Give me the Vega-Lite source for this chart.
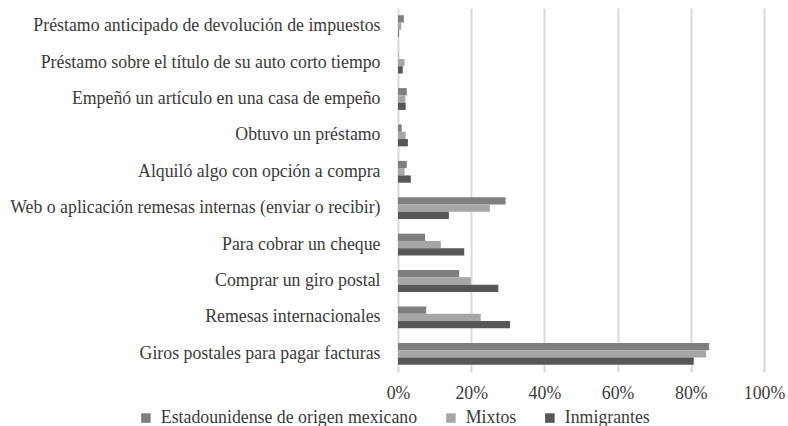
{
  "$schema": "https://vega.github.io/schema/vega-lite/v6.json",
  "autosize": {"type": "none"},
  "padding": {"left": 398, "top": 8, "right": 24, "bottom": 54},
  "width": 366,
  "height": 364,
  "background": "white",
  "config": {
    "font": "Times New Roman, Times, Tinos, Liberation Serif, DejaVu Serif",
    "view": {"stroke": null},
    "axis": {"labelFont": "Times New Roman, Times, Tinos, Liberation Serif, DejaVu Serif", "labelColor": "#3a3a3a", "labelFontSize": 17.8, "titleFontSize": 16},
    "legend": {"labelFont": "Times New Roman, Times, Tinos, Liberation Serif, DejaVu Serif"}
  },
  "data": {
    "values": [
      {"cat": "Préstamo anticipado de devolución de impuestos", "grupo": "Estadounidense de origen mexicano", "v": 1.6},
      {"cat": "Préstamo anticipado de devolución de impuestos", "grupo": "Mixtos", "v": 0.9},
      {"cat": "Préstamo anticipado de devolución de impuestos", "grupo": "Inmigrantes", "v": 0.2},
      {"cat": "Préstamo sobre el título de su auto corto tiempo", "grupo": "Estadounidense de origen mexicano", "v": 0.1},
      {"cat": "Préstamo sobre el título de su auto corto tiempo", "grupo": "Mixtos", "v": 1.8},
      {"cat": "Préstamo sobre el título de su auto corto tiempo", "grupo": "Inmigrantes", "v": 1.3},
      {"cat": "Empeñó un artículo en una casa de empeño", "grupo": "Estadounidense de origen mexicano", "v": 2.4},
      {"cat": "Empeñó un artículo en una casa de empeño", "grupo": "Mixtos", "v": 2.0},
      {"cat": "Empeñó un artículo en una casa de empeño", "grupo": "Inmigrantes", "v": 2.1},
      {"cat": "Obtuvo un préstamo", "grupo": "Estadounidense de origen mexicano", "v": 1.0},
      {"cat": "Obtuvo un préstamo", "grupo": "Mixtos", "v": 2.1},
      {"cat": "Obtuvo un préstamo", "grupo": "Inmigrantes", "v": 2.7},
      {"cat": "Alquiló algo con opción a compra", "grupo": "Estadounidense de origen mexicano", "v": 2.4},
      {"cat": "Alquiló algo con opción a compra", "grupo": "Mixtos", "v": 1.8},
      {"cat": "Alquiló algo con opción a compra", "grupo": "Inmigrantes", "v": 3.5},
      {"cat": "Web o aplicación remesas internas (enviar o recibir)", "grupo": "Estadounidense de origen mexicano", "v": 29.4},
      {"cat": "Web o aplicación remesas internas (enviar o recibir)", "grupo": "Mixtos", "v": 25.1},
      {"cat": "Web o aplicación remesas internas (enviar o recibir)", "grupo": "Inmigrantes", "v": 13.9},
      {"cat": "Para cobrar un cheque", "grupo": "Estadounidense de origen mexicano", "v": 7.4},
      {"cat": "Para cobrar un cheque", "grupo": "Mixtos", "v": 11.7},
      {"cat": "Para cobrar un cheque", "grupo": "Inmigrantes", "v": 18.1},
      {"cat": "Comprar un giro postal", "grupo": "Estadounidense de origen mexicano", "v": 16.7},
      {"cat": "Comprar un giro postal", "grupo": "Mixtos", "v": 19.9},
      {"cat": "Comprar un giro postal", "grupo": "Inmigrantes", "v": 27.4},
      {"cat": "Remesas internacionales", "grupo": "Estadounidense de origen mexicano", "v": 7.7},
      {"cat": "Remesas internacionales", "grupo": "Mixtos", "v": 22.6},
      {"cat": "Remesas internacionales", "grupo": "Inmigrantes", "v": 30.6},
      {"cat": "Giros postales para pagar facturas", "grupo": "Estadounidense de origen mexicano", "v": 85.0},
      {"cat": "Giros postales para pagar facturas", "grupo": "Mixtos", "v": 84.2},
      {"cat": "Giros postales para pagar facturas", "grupo": "Inmigrantes", "v": 80.8}
    ]
  },
  "mark": {"type": "bar"},
  "encoding": {
    "y": {
      "field": "cat", "type": "nominal", "sort": null,
      "scale": {"paddingInner": 0.4, "paddingOuter": 0.2},
      "axis": {"title": null, "ticks": false, "domain": false, "labelPadding": 18, "labelLimit": 400}
    },
    "yOffset": {"field": "grupo", "type": "nominal",
      "sort": ["Estadounidense de origen mexicano", "Mixtos", "Inmigrantes"],
      "scale": {"paddingInner": 0, "paddingOuter": 0}},
    "x": {
      "field": "v", "type": "quantitative",
      "scale": {"domain": [0, 100], "nice": false},
      "axis": {"title": null, "values": [0, 20, 40, 60, 80, 100], "labelExpr": "datum.value + '%'",
        "grid": true, "gridColor": "#d9d9d9", "gridWidth": 2, "domain": false,
        "ticks": false, "labelPadding": 12, "labelFlush": false}
    },
    "color": {
      "field": "grupo", "type": "nominal",
      "sort": ["Estadounidense de origen mexicano", "Mixtos", "Inmigrantes"],
      "scale": {"domain": ["Estadounidense de origen mexicano", "Mixtos", "Inmigrantes"], "range": ["#7f7f7f", "#a6a6a6", "#575757"]},
      "legend": {"title": null, "orient": "none", "direction": "horizontal", "legendX": -261, "legendY": 401,
        "symbolType": "square", "symbolSize": 90, "symbolStrokeWidth": 0, "labelFontSize": 17.8, "labelColor": "#3a3a3a",
        "labelFont": "Times New Roman, Times, Tinos, Liberation Serif, DejaVu Serif", "columnPadding": 24, "labelOffset": 6, "labelLimit": 400}
    }
  }
}
